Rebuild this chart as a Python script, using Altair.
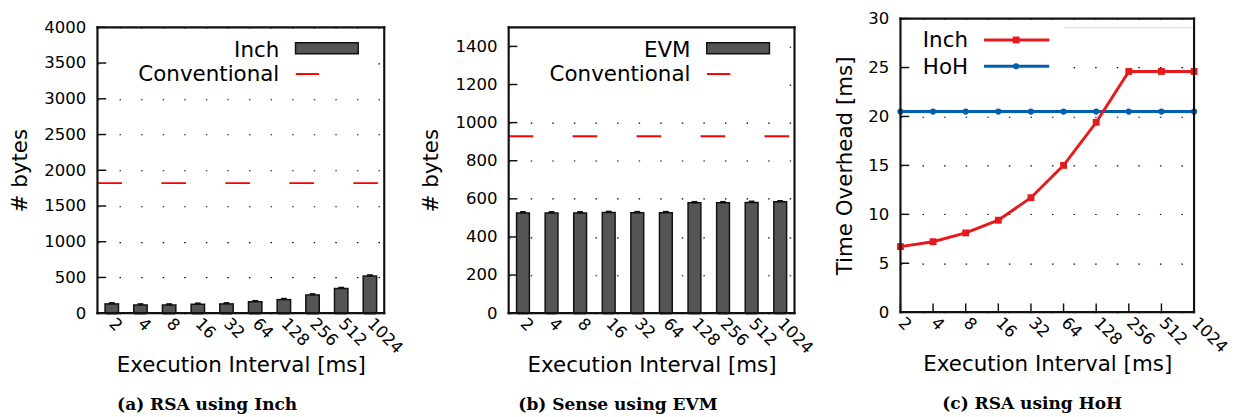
import altair as alt
import pandas as pd

# ---------------- data ----------------
intervals = ["2", "4", "8", "16", "32", "64", "128", "256", "512", "1024"]

inch_bytes = [140, 125, 125, 135, 140, 170, 200, 265, 355, 530]
inch_bytes_err = [15, 15, 15, 15, 15, 15, 15, 15, 15, 15]
conventional_a = 1820

evm_bytes = [530, 530, 530, 532, 531, 531, 583, 583, 585, 588]
evm_bytes_err = [6, 6, 6, 6, 6, 6, 6, 6, 6, 6]
conventional_b = 928

inch_ms = [6.7, 7.2, 8.1, 9.4, 11.7, 15.0, 19.4, 24.6, 24.6, 24.6]
hoh_ms = [20.5, 20.5, 20.5, 20.5, 20.5, 20.5, 20.5, 20.5, 20.5, 20.5]

yticks_a = [0, 500, 1000, 1500, 2000, 2500, 3000, 3500, 4000]
yticks_b = [0, 200, 400, 600, 800, 1000, 1200, 1400]
yticks_c = [0, 5, 10, 15, 20, 25, 30]

legend_a = ["Inch", "Conventional"]
legend_b = ["EVM", "Conventional"]
legend_c = ["Inch", "HoH"]
captions = ["(a) RSA using Inch", "(b) Sense using EVM", "(c) RSA using HoH"]
xtitle = "Execution Interval [ms]"

FONT = "DejaVu Sans"
BAR_FILL = "#555555"
INK = "#111111"
RED = "#e41a1c"
BLUE = "#0060ad"
GRID_DASH = [1.5, 20.7]


def one(name):
    return pd.DataFrame({"name": [name]})


def caption_title(text):
    return alt.TitleParams(text, orient="bottom", font="DejaVu Serif", fontSize=17.5,
                           fontWeight="bold", color="black", offset=22, anchor="middle",
                           frame="bounds")


def x_axis():
    return alt.Axis(labelAngle=45, labelAlign="left", labelBaseline="middle",
                    labelPadding=8, ticks=False, domain=False, labelFontSize=17,
                    labelFont=FONT, labelColor="black", title=xtitle, titleFont=FONT,
                    titleFontSize=22, titleFontWeight="normal", titleColor="black",
                    minExtent=38, maxExtent=38, titlePadding=5)


def y_axis(values, title, extent, tpad):
    return alt.Axis(values=values, format="d", grid=True, gridDash=GRID_DASH,
                    gridColor="black", gridWidth=1.2, ticks=False, domain=False,
                    labelFontSize=17, labelFont=FONT, labelColor="black", labelPadding=12,
                    title=title, titleFont=FONT, titleFontSize=22,
                    titleFontWeight="normal", titleColor="black",
                    minExtent=extent, maxExtent=extent, titlePadding=tpad)


def box(x0, x1, y0, y1, fill):
    return alt.Chart(one("box")).mark_rect(fill=fill).encode(
        x=alt.value(x0), x2=alt.value(x1), y=alt.value(y0), y2=alt.value(y1))


def frame(x0, x1, y0, y1, t=1.1):
    # plot frame drawn as four thin filled strips
    return [box(x0 - t, x1 + t, y0 - t, y0 + t, INK),
            box(x0 - t, x1 + t, y1 - t, y1 + t, INK),
            box(x0 - t, x0 + t, y0 - t, y1 + t, INK),
            box(x1 - t, x1 + t, y0 - t, y1 + t, INK)]


def bar_panel(vals, errs, conv, names, ymax, yticks, W, H, caption, frac):
    df = pd.DataFrame({
        "interval": intervals,
        "bytes": vals,
        "lo": [v - e for v, e in zip(vals, errs)],
        "hi": [v + e for v, e in zip(vals, errs)],
    })
    bw = W / len(intervals) * frac
    xenc = alt.X("interval:N", sort=intervals,
                 scale=alt.Scale(paddingInner=1 - frac, paddingOuter=(1 - frac) / 2),
                 axis=x_axis())
    yscale = alt.Scale(domain=[0, ymax], nice=False)
    yaxis = y_axis(yticks, "# bytes", 56, 12)

    def Y(field):
        return alt.Y(field, scale=yscale, axis=yaxis)

    base = alt.Chart(df)
    legend_bg = box(2, 286, 2, 66, "white")
    bars_outline = base.mark_bar(fill=INK).encode(x=xenc, y=Y("bytes:Q"))
    bars_inner = base.mark_bar(fill=BAR_FILL, size=bw - 3, yOffset=1.5).encode(
        x=xenc, y=Y("bytes:Q"))
    err = base.mark_bar(fill=INK, size=6).encode(x=xenc, y=Y("lo:Q"), y2="hi:Q")
    conv_line = alt.Chart(pd.DataFrame({"bytes": [conv]})).mark_rule(
        color="red", strokeWidth=2, strokeDash=[25.3, 40.5]).encode(
        y=Y("bytes:Q"), x=alt.value(0), x2=alt.value(W))
    ticks = alt.Chart(pd.DataFrame({"tick": yticks})).mark_tick(
        orient="horizontal", size=9, thickness=1.5, color=INK, opacity=1).encode(
        y=alt.Y("tick:Q", scale=yscale, axis=yaxis), x=alt.value(4.5))

    t1 = alt.Chart(one(names[0])).mark_text(
        align="right", baseline="middle", font=FONT, fontSize=22, color="black").encode(
        text="name:N", x=alt.value(187), y=alt.value(23))
    t2 = alt.Chart(one(names[1])).mark_text(
        align="right", baseline="middle", font=FONT, fontSize=22, color="black").encode(
        text="name:N", x=alt.value(187), y=alt.value(48))
    sw_out = box(203, 269, 15, 28, INK)
    sw_in = box(204.5, 267.5, 16.5, 26.5, BAR_FILL)
    dash = alt.Chart(one(names[1])).mark_rule(color="red", strokeWidth=2).encode(
        x=alt.value(204), x2=alt.value(228), y=alt.value(48))

    layers = ([legend_bg, bars_outline, bars_inner, err, conv_line, ticks,
               t1, t2, sw_out, sw_in, dash] + frame(0, W, 0, H))
    return alt.layer(*layers).properties(width=W, height=H, title=caption_title(caption))


panel_a = bar_panel(inch_bytes, inch_bytes_err, conventional_a, legend_a, 4000, yticks_a,
                    295, 294, captions[0], 0.52)
panel_b = bar_panel(evm_bytes, evm_bytes_err, conventional_b, legend_b, 1500, yticks_b,
                    294, 294, captions[1], 0.50)

# ---------------- panel c ----------------
# plot area of (c) starts 9 px higher than (a)/(b): y range runs from 293 up to -9
Wc, Hc, TOPc = 302, 293, -9
df_c = pd.DataFrame({"interval": intervals, "inch": inch_ms, "hoh": hoh_ms})
xenc_c = alt.X("interval:N", sort=intervals, scale=alt.Scale(type="point", padding=0),
               axis=x_axis())
yscale_c = alt.Scale(domain=[0, 30], nice=False, range=[Hc, TOPc])
yaxis_c = y_axis(yticks_c, "Time Overhead [ms]", 34, 11)


def Yc(field):
    return alt.Y(field, scale=yscale_c, axis=yaxis_c)


base_c = alt.Chart(df_c)
bg_c = box(2, 168, -7, 58, "white")
hoh_line = base_c.mark_line(color=BLUE, strokeWidth=3).encode(x=xenc_c, y=Yc("hoh:Q"))
hoh_pts = base_c.mark_point(shape="circle", filled=True, color=BLUE, size=40, opacity=1).encode(
    x=xenc_c, y=Yc("hoh:Q"))
inch_line = base_c.mark_line(color=RED, strokeWidth=3).encode(x=xenc_c, y=Yc("inch:Q"))
inch_pts = base_c.mark_point(shape="square", filled=True, color=RED, size=50, opacity=1).encode(
    x=xenc_c, y=Yc("inch:Q"))
yt_c = alt.Chart(pd.DataFrame({"tick": yticks_c})).mark_tick(
    orient="horizontal", size=9, thickness=1.5, color=INK, opacity=1).encode(
    y=alt.Y("tick:Q", scale=yscale_c, axis=yaxis_c), x=alt.value(4.5))
xt_c = base_c.mark_tick(orient="vertical", size=9, thickness=1.5, color=INK, opacity=1).encode(
    x=xenc_c, y=alt.value(Hc - 4.5))

lt1 = alt.Chart(one(legend_c[0])).mark_text(
    align="left", baseline="middle", font=FONT, fontSize=22, color="black").encode(
    text="name:N", x=alt.value(23), y=alt.value(13))
lt2 = alt.Chart(one(legend_c[1])).mark_text(
    align="left", baseline="middle", font=FONT, fontSize=22, color="black").encode(
    text="name:N", x=alt.value(23), y=alt.value(41))
ll1 = alt.Chart(one(legend_c[0])).mark_rule(color=RED, strokeWidth=3).encode(
    x=alt.value(86), x2=alt.value(153), y=alt.value(13))
ll2 = alt.Chart(one(legend_c[1])).mark_rule(color=BLUE, strokeWidth=3).encode(
    x=alt.value(86), x2=alt.value(153), y=alt.value(40))
lp1 = alt.Chart(one(legend_c[0])).mark_point(shape="square", filled=True, color=RED,
                                             size=50, opacity=1).encode(
    x=alt.value(119), y=alt.value(13))
lp2 = alt.Chart(one(legend_c[1])).mark_point(shape="circle", filled=True, color=BLUE,
                                             size=40, opacity=1).encode(
    x=alt.value(119), y=alt.value(40))

layers_c = ([bg_c, yt_c, xt_c, hoh_line, hoh_pts, inch_line, inch_pts,
             lt1, lt2, ll1, ll2, lp1, lp2] + frame(0, Wc, TOPc, Hc))
panel_c = alt.layer(*layers_c).properties(
    width=Wc, height=Hc, title=caption_title(captions[2]))

chart = alt.hconcat(alt.hconcat(panel_a, panel_b, spacing=13), panel_c, spacing=17).properties(
    padding={"left": 0, "top": -5, "right": 0, "bottom": 0}
).configure_view(strokeOpacity=0).configure(background="white")

chart.save("out.html", embed_options={"renderer": "svg", "actions": False})
